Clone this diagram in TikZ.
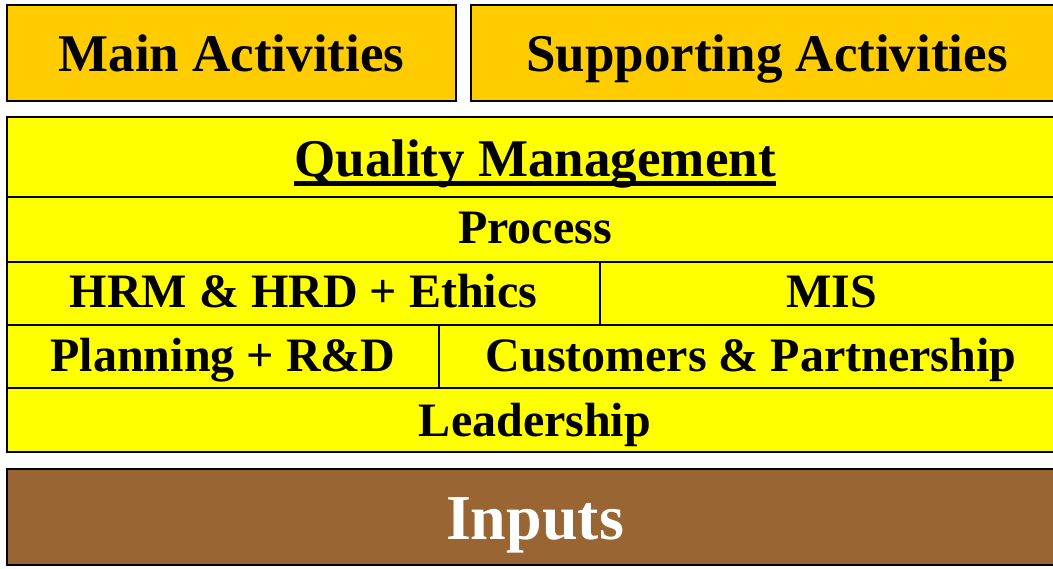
\documentclass[tikz,border=0pt]{standalone}
\usepackage{fontspec}
\setmainfont{Liberation Serif}
\definecolor{topgold}{HTML}{FFCC00}
\definecolor{cellyellow}{HTML}{FFFF00}
\definecolor{inbrown}{HTML}{996633}
\newcommand{\qmul}[1]{\setbox0\hbox{#1}\rlap{\rule[-9pt]{\wd0}{5pt}}\box0}
\tikzset{
  cellbox/.style={draw=black, line width=1.6pt, inner sep=0pt, text depth=0pt, font=\bfseries},
  bigtxt/.style={font=\bfseries\fontsize{53}{60}\selectfont},
  midtxt/.style={font=\bfseries\fontsize{48}{54}\selectfont},
}
\begin{document}
\begin{tikzpicture}[x=1pt,y=-1pt]
\useasboundingbox (0,0) rectangle (1053,569);
\clip (0,0) rectangle (1053,569);
% top boxes
\node[cellbox, bigtxt, fill=topgold, minimum width=449pt, minimum height=96pt, text height=38pt] (main) at (231.5,53) {Main Activities};
\node[cellbox, bigtxt, fill=topgold, minimum width=592pt, minimum height=96pt, text height=38pt] (supp) at (767,53) {Supporting Activities};
% yellow block
\node[cellbox, bigtxt, fill=cellyellow, minimum width=1056pt, minimum height=80pt, text height=40pt] (qm) at (535,157) {\qmul{Quality Management}};
\node[cellbox, midtxt, fill=cellyellow, minimum width=1056pt, minimum height=65pt, text height=29pt] (proc) at (535,229.5) {Process};
\node[cellbox, midtxt, fill=cellyellow, minimum width=593pt, minimum height=63pt, text height=29pt] (hrm) at (303.5,293.5) {HRM \& HRD + Ethics};
\node[cellbox, midtxt, fill=cellyellow, minimum width=463pt, minimum height=63pt, text height=29pt] (mis) at (831.5,293.5) {MIS};
\node[cellbox, midtxt, fill=cellyellow, minimum width=432pt, minimum height=63pt, text height=31pt] (plan) at (223,356.5) {Planning + R\&D};
\node[cellbox, midtxt, fill=cellyellow, minimum width=624pt, minimum height=63pt, text height=31pt] (cust) at (751,356.5) {Customers \& Partnership};
\node[cellbox, midtxt, fill=cellyellow, minimum width=1056pt, minimum height=64pt, text height=32pt] (lead) at (535,420) {Leadership};
% inputs
\node[cellbox, fill=inbrown, text=white, font=\bfseries\fontsize{64}{72}\selectfont, minimum width=1056pt, minimum height=96pt, text height=44pt] (inp) at (535,517) {Inputs};
\end{tikzpicture}
\end{document}
